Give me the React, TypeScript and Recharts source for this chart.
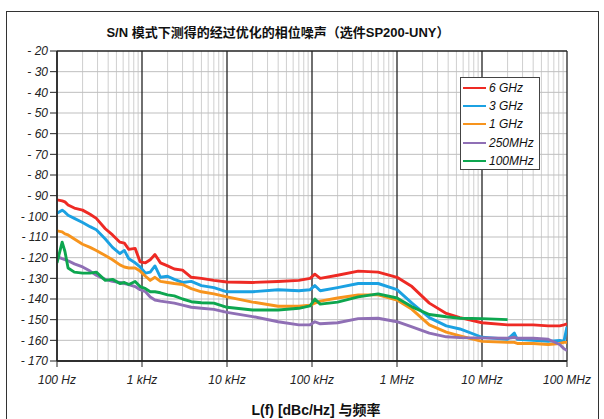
import React from 'react';
import {
  LineChart,
  Line,
  XAxis,
  YAxis,
  ReferenceLine,
} from 'recharts';

// offset frequencies in Hz (log axis)
const freqs = [
  100, 115, 124, 135, 160, 200, 245, 290, 370, 450, 550, 620, 700, 830, 950,
  1100, 1250, 1420, 1650, 2000, 2400, 3000, 3800, 5000, 7000, 10000, 20000,
  40000, 70000, 95000, 108000, 125000, 200000, 350000, 600000, 1000000,
  1500000, 2400000, 3800000, 5500000, 10000000, 20000000, 24000000, 26000000,
  40000000, 60000000, 82000000, 92000000, 100000000,
];

const ghz6 = [
  -92, -92.5, -93, -94.5, -96, -97, -99, -101, -106, -109, -112.5, -113, -116,
  -115.5, -122, -122.5, -121, -118.5, -122.5, -124, -125.5, -126, -129.5, -130,
  -131, -131.8, -132, -131.5, -131, -130, -128, -130, -128.5, -126.5, -127,
  -129.5, -134, -142, -147, -149, -151.5, -152.5, -152.5, -152.5, -152.5, -153,
  -153, -152.5, -152,
];

const ghz3 = [
  -98.5, -97, -98, -99.5, -101, -103, -105, -106.5, -111, -115, -118, -116.5,
  -120.5, -122.5, -124.5, -127.5, -127, -124, -129.5, -129, -130.5, -132,
  -131.5, -133.5, -134.5, -136.5, -136.5, -135.5, -136, -135.5, -133.5, -136,
  -134.5, -132.5, -132.5, -135.5, -142, -149, -153, -154.5, -158.5, -159.5,
  -156.5, -159.5, -160, -160.5, -160, -160.5, -153.5,
];

const ghz1 = [
  -107, -107.5, -108.5, -109, -111, -113.5, -115, -116.5, -119, -121, -123.5,
  -124.5, -125, -125, -126.5, -129, -131, -129.5, -131.5, -132, -132.5, -133,
  -135, -136.5, -137.5, -139, -141.5, -143.5, -143.5, -143, -142, -141, -139.5,
  -138, -138, -140.5, -145, -152.5, -156, -157.8, -160.5, -161, -161, -161.5,
  -161.5, -162, -161.5, -161, -161,
];

const mhz250 = [
  -119.5, -120.5, -121, -121.5, -123, -124.5, -126.5, -128.5, -130.5, -131.5,
  -132, -132.5, -133, -134, -135.5, -136.5, -139, -140.5, -141, -141.5, -142,
  -143, -144, -144.5, -145, -146.5, -148.5, -151, -152.5, -152.5, -151, -152,
  -151.5, -149.5, -149.3, -151, -153.5, -156.5, -158.3, -158.7, -158.8, -159,
  -158.5, -159, -159, -159.5, -162, -164, -165,
];

const mhz100 = [
  -122.5, -112.5, -117, -125, -127, -127.5, -127.5, -127, -131, -130.5, -132.5,
  -132, -133, -131.5, -134, -135, -136.5, -136.5, -137, -138, -138.5, -140,
  -141.3, -141.8, -142, -144, -145.3, -145.3, -144.5, -143.3, -140, -142.5,
  -141.5, -139, -137.5, -139.5, -143.8, -147.5, -148.6, -149.3, -149.5, -150,
  null, null, null, null, null, null, null,
];

const seriesNames = ['6 GHz', '3 GHz', '1 GHz', '250MHz', '100MHz'];
const seriesKeys = ['ghz6', 'ghz3', 'ghz1', 'mhz250', 'mhz100'];
const seriesColors = ['#ee2a24', '#1ba1e2', '#f7941d', '#8f6fb5', '#0da64f'];

const xTicks = [100, 1e3, 1e4, 1e5, 1e6, 1e7, 1e8];
const xTickLabels = ['100 Hz', '1 kHz', '10 kHz', '100 kHz', '1 MHz', '10 MHz', '100 MHz'];
const yTicks = [-20, -30, -40, -50, -60, -70, -80, -90, -100, -110, -120, -130, -140, -150, -160, -170];
const minorMult = [2, 3, 4, 5, 6, 7, 8, 9];

const data = freqs.map((f, i) => ({
  f,
  ghz6: ghz6[i],
  ghz3: ghz3[i],
  ghz1: ghz1[i],
  mhz250: mhz250[i],
  mhz100: mhz100[i],
}));

const minorLines: number[] = [];
xTicks.slice(0, -1).forEach((d) => minorMult.forEach((m) => minorLines.push(d * m)));

const font = '"Liberation Sans", Arial, "Noto Sans CJK SC", sans-serif';

export default function App() {
  return (
    <div
      style={{
        position: 'absolute',
        left: 0,
        top: 0,
        width: 604,
        height: 419,
        background: '#fff',
        overflow: 'hidden',
        fontFamily: font,
      }}
    >
      <div
        style={{
          position: 'absolute',
          left: 6,
          top: 11,
          width: 591,
          height: 440,
          border: '1px solid #333',
        }}
      />
      <div
        style={{
          position: 'absolute',
          left: 0,
          width: 556,
          top: 22,
          textAlign: 'center',
          fontWeight: 'bold',
          fontSize: 13,
          color: '#111',
        }}
      >
        S/N 模式下测得的经过优化的相位噪声（选件SP200-UNY）
      </div>
      <div
        style={{
          position: 'absolute',
          left: 0,
          width: 632,
          top: 399,
          textAlign: 'center',
          fontWeight: 'bold',
          fontSize: 14,
          color: '#111',
        }}
      >
        L(f) [dBc/Hz] 与频率
      </div>
      <LineChart
        width={604}
        height={419}
        data={data}
        margin={{ top: 51, right: 37, left: 7, bottom: 28 }}
        style={{ position: 'absolute', left: 0, top: 0 }}
      >
        {minorLines.map((v) => (
          <ReferenceLine key={'m' + v} x={v} stroke="#cfcfcf" strokeWidth={1} />
        ))}
        {yTicks.slice(1, -1).map((v) => (
          <ReferenceLine key={'h' + v} y={v} stroke="#bfbfbf" strokeWidth={1} />
        ))}
        {xTicks.map((v) => (
          <ReferenceLine key={'d' + v} x={v} stroke="#222" strokeWidth={1.3} />
        ))}
        <ReferenceLine y={-20} stroke="#222" strokeWidth={1.5} />
        <ReferenceLine y={-170} stroke="#222" strokeWidth={1.5} />
        <XAxis
          dataKey="f"
          type="number"
          scale="log"
          domain={[100, 1e8]}
          ticks={xTicks}
          allowDataOverflow
          height={30}
          tickFormatter={(v: number) => xTickLabels[xTicks.indexOf(v)] ?? ''}
          tick={{ fill: '#222', fontSize: 12, fontStyle: 'italic', fontFamily: font }}
          axisLine={{ stroke: '#222', strokeWidth: 1.5 }}
          tickLine={{ stroke: '#222' }}
          tickSize={6}
          tickMargin={8}
        />
        <YAxis
          type="number"
          domain={[-170, -20]}
          ticks={yTicks}
          width={50}
          allowDataOverflow
          tickFormatter={(v: number) => `- ${Math.abs(v)}`}
          tick={{ fill: '#222', fontSize: 12, fontStyle: 'italic', fontFamily: font }}
          axisLine={{ stroke: '#222', strokeWidth: 1.5 }}
          tickLine={{ stroke: '#222' }}
          tickSize={7}
          tickMargin={2}
        />
        {seriesKeys.map((k, i) => (
          <Line
            key={k}
            type="linear"
            dataKey={k}
            stroke={seriesColors[i]}
            strokeWidth={2.9}
            strokeLinejoin="round"
            dot={false}
            connectNulls={false}
            isAnimationActive={false}
          />
        ))}
      </LineChart>
      <div
        style={{
          position: 'absolute',
          left: 460,
          top: 77,
          width: 78,
          height: 91,
          border: '1px solid #444',
          background: '#fff',
        }}
      >
        {seriesNames.map((n, i) => (
          <div
            key={n}
            style={{
              position: 'absolute',
              left: 2,
              top: 1 + i * 18.2,
              height: 18,
              display: 'flex',
              alignItems: 'center',
              fontSize: 12,
              fontStyle: 'italic',
              color: '#111',
            }}
          >
            <span
              style={{
                display: 'inline-block',
                width: 23,
                height: 2,
                background: seriesColors[i],
                marginRight: 3,
              }}
            />
            {n}
          </div>
        ))}
      </div>
    </div>
  );
}
